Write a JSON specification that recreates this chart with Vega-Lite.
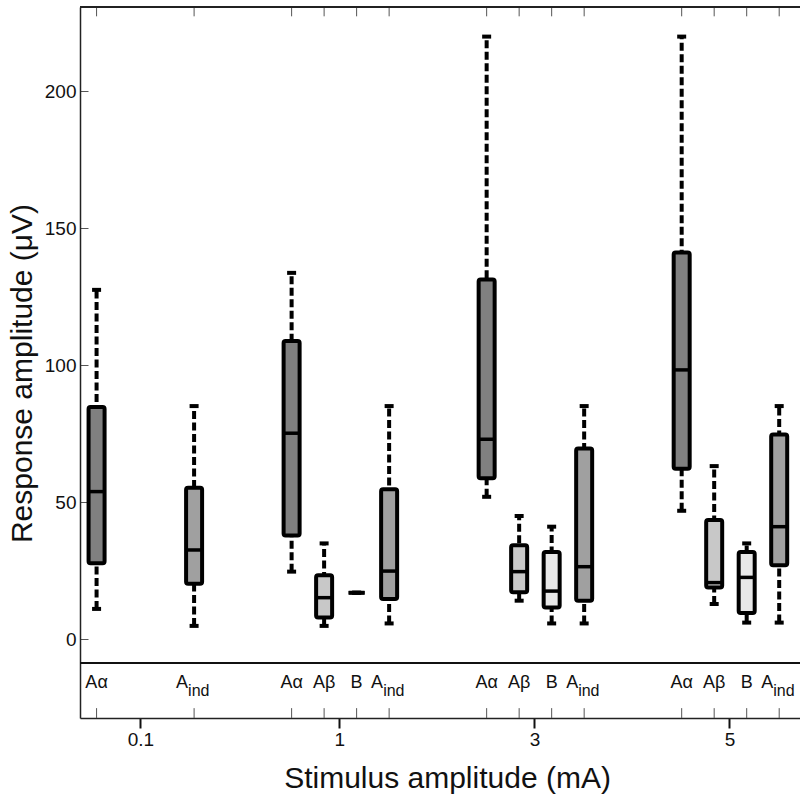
{
  "$schema": "https://vega.github.io/schema/vega-lite/v6.json",
  "width": 720,
  "height": 711,
  "autosize": {"type": "none"},
  "padding": {"left": 80, "top": 7, "right": 0, "bottom": 79},
  "config": {"view": {"stroke": null}, "font": "Liberation Sans"},
  "data": {
    "values": [
      {"grp": "0.1", "type": "Aα", "lab": "Aα", "sub": "", "slot": 0, "min": 11.1, "q1": 27.8, "med": 53.9, "q3": 84.8, "max": 127.5},
      {"grp": "0.1", "type": "Aind", "lab": "A", "sub": "ind", "slot": 3, "min": 4.9, "q1": 20.3, "med": 32.6, "q3": 55.3, "max": 85.1},
      {"grp": "1", "type": "Aα", "lab": "Aα", "sub": "", "slot": 6, "min": 24.7, "q1": 37.9, "med": 75.2, "q3": 108.8, "max": 133.7},
      {"grp": "1", "type": "Aβ", "lab": "Aβ", "sub": "", "slot": 7, "min": 4.9, "q1": 8.0, "med": 15.2, "q3": 23.4, "max": 35.0},
      {"grp": "1", "type": "B", "lab": "B", "sub": "", "slot": 8, "min": 17.0, "q1": 17.0, "med": 17.0, "q3": 17.0, "max": 17.0},
      {"grp": "1", "type": "Aind", "lab": "A", "sub": "ind", "slot": 9, "min": 5.8, "q1": 14.7, "med": 24.9, "q3": 54.8, "max": 85.1},
      {"grp": "3", "type": "Aα", "lab": "Aα", "sub": "", "slot": 12, "min": 52.0, "q1": 58.8, "med": 73.0, "q3": 131.3, "max": 219.9},
      {"grp": "3", "type": "Aβ", "lab": "Aβ", "sub": "", "slot": 13, "min": 14.1, "q1": 17.2, "med": 24.7, "q3": 34.3, "max": 45.0},
      {"grp": "3", "type": "B", "lab": "B", "sub": "", "slot": 14, "min": 5.8, "q1": 11.6, "med": 17.6, "q3": 31.9, "max": 41.1},
      {"grp": "3", "type": "Aind", "lab": "A", "sub": "ind", "slot": 15, "min": 5.8, "q1": 14.1, "med": 26.5, "q3": 69.6, "max": 85.1},
      {"grp": "5", "type": "Aα", "lab": "Aα", "sub": "", "slot": 18, "min": 46.9, "q1": 62.2, "med": 98.3, "q3": 141.1, "max": 219.9},
      {"grp": "5", "type": "Aβ", "lab": "Aβ", "sub": "", "slot": 19, "min": 12.9, "q1": 18.9, "med": 20.7, "q3": 43.5, "max": 63.2},
      {"grp": "5", "type": "B", "lab": "B", "sub": "", "slot": 20, "min": 6.1, "q1": 9.6, "med": 22.6, "q3": 31.9, "max": 35.0},
      {"grp": "5", "type": "Aind", "lab": "A", "sub": "ind", "slot": 21, "min": 6.1, "q1": 27.0, "med": 41.1, "q3": 74.7, "max": 85.1}
    ]
  },
  "layer": [
    {
      "encoding": {
        "x": {
          "field": "slot",
          "type": "quantitative",
          "scale": {"domain": [-0.51, 21.64], "nice": false, "zero": false, "padding": 0},
          "axis": {
            "values": [1.35, 7.47, 13.47, 19.47],
            "labelExpr": "datum.value < 4 ? '0.1' : datum.value < 10 ? '1' : datum.value < 16 ? '3' : '5'",
            "tickSize": 10,
            "tickWidth": 2,
            "tickColor": "#111",
            "labelPadding": 2,
            "labelFontSize": 19,
            "labelColor": "#111",
            "domainColor": "#222",
            "domainWidth": 1.5,
            "grid": false,
            "title": "Stimulus amplitude (mA)",
            "titleFontSize": 30,
            "titleFontWeight": "normal",
            "titleColor": "#111",
            "titleBaseline": "alphabetic",
            "titleX": 367,
            "titleY": 69
          }
        }
      },
      "layer": [
        {
          "mark": {"type": "rule", "strokeWidth": 4, "strokeDash": [8, 3.5], "color": "#000"},
          "encoding": {
            "y": {
              "field": "min",
              "type": "quantitative",
              "scale": {"domain": [-28.7, 230.7], "nice": false, "zero": false},
              "axis": {
                "values": [0, 50, 100, 150, 200],
                "tickSize": -8,
                "tickWidth": 1,
                "tickColor": "#555",
                "labelPadding": 12,
                "labelFontSize": 19,
                "labelColor": "#111",
                "domainColor": "#222",
                "domainWidth": 1.5,
                "grid": false,
                "title": "Response amplitude (μV)",
                "titleFontSize": 30,
                "titleFontWeight": "normal",
                "titleColor": "#111",
                "titleBaseline": "alphabetic",
                "titleX": -49,
                "titleY": 366
              }
            },
            "y2": {"field": "max"}
          }
        },
        {
          "mark": {"type": "tick", "orient": "horizontal", "size": 9, "thickness": 4, "color": "#000", "opacity": 1},
          "encoding": {
            "y": {"field": "min", "type": "quantitative"}
          }
        },
        {
          "mark": {"type": "tick", "orient": "horizontal", "size": 9, "thickness": 4, "color": "#000", "opacity": 1},
          "encoding": {
            "y": {"field": "max", "type": "quantitative"}
          }
        },
        {
          "mark": {"type": "bar", "width": 16, "stroke": "#000", "strokeWidth": 4, "cornerRadius": 2, "opacity": 1},
          "encoding": {
            "y": {"field": "q1", "type": "quantitative"},
            "y2": {"field": "q3"},
            "color": {
              "field": "type",
              "type": "nominal",
              "scale": {"domain": ["Aα", "Aβ", "B", "Aind"], "range": ["#808080", "#c8c8c8", "#e8e8e8", "#a0a0a0"]},
              "legend": null
            }
          }
        },
        {
          "mark": {"type": "tick", "orient": "horizontal", "size": 16, "thickness": 3.5, "color": "#000", "opacity": 1},
          "encoding": {
            "y": {"field": "med", "type": "quantitative"}
          }
        },
        {
          "mark": {"type": "rule", "strokeWidth": 1, "color": "#555"},
          "encoding": {
            "y": {"datum": -28.7, "type": "quantitative"},
            "y2": {"datum": -25.1}
          }
        },
        {
          "mark": {"type": "rule", "strokeWidth": 1, "color": "#555"},
          "encoding": {
            "y": {"datum": 230.7, "type": "quantitative"},
            "y2": {"datum": 227.3}
          }
        },
        {
          "transform": [{"filter": "datum.type != 'Aind'"}],
          "mark": {"type": "text", "align": "center", "baseline": "alphabetic", "fontSize": 18, "color": "#111"},
          "encoding": {
            "y": {"datum": -17.7, "type": "quantitative"},
            "text": {"field": "lab"}
          }
        },
        {
          "transform": [{"filter": "datum.type == 'Aind'"}],
          "mark": {"type": "text", "align": "right", "baseline": "alphabetic", "fontSize": 18, "dx": -6, "color": "#111"},
          "encoding": {
            "y": {"datum": -17.7, "type": "quantitative"},
            "text": {"field": "lab"}
          }
        },
        {
          "transform": [{"filter": "datum.type == 'Aind'"}],
          "mark": {"type": "text", "align": "left", "baseline": "alphabetic", "fontSize": 16, "dx": -6, "dy": 8, "color": "#111"},
          "encoding": {
            "y": {"datum": -17.7, "type": "quantitative"},
            "text": {"field": "sub"}
          }
        },
        {
          "mark": {"type": "rule", "strokeWidth": 2, "color": "#111"},
          "encoding": {
            "x": {"value": 0},
            "x2": {"value": 720},
            "y": {"datum": -8.6, "type": "quantitative"}
          }
        },
        {
          "mark": {"type": "rule", "strokeWidth": 1.5, "color": "#222"},
          "encoding": {
            "x": {"value": 0},
            "x2": {"value": 720},
            "y": {"datum": 230.7, "type": "quantitative"}
          }
        }
      ]
    }
  ]
}
